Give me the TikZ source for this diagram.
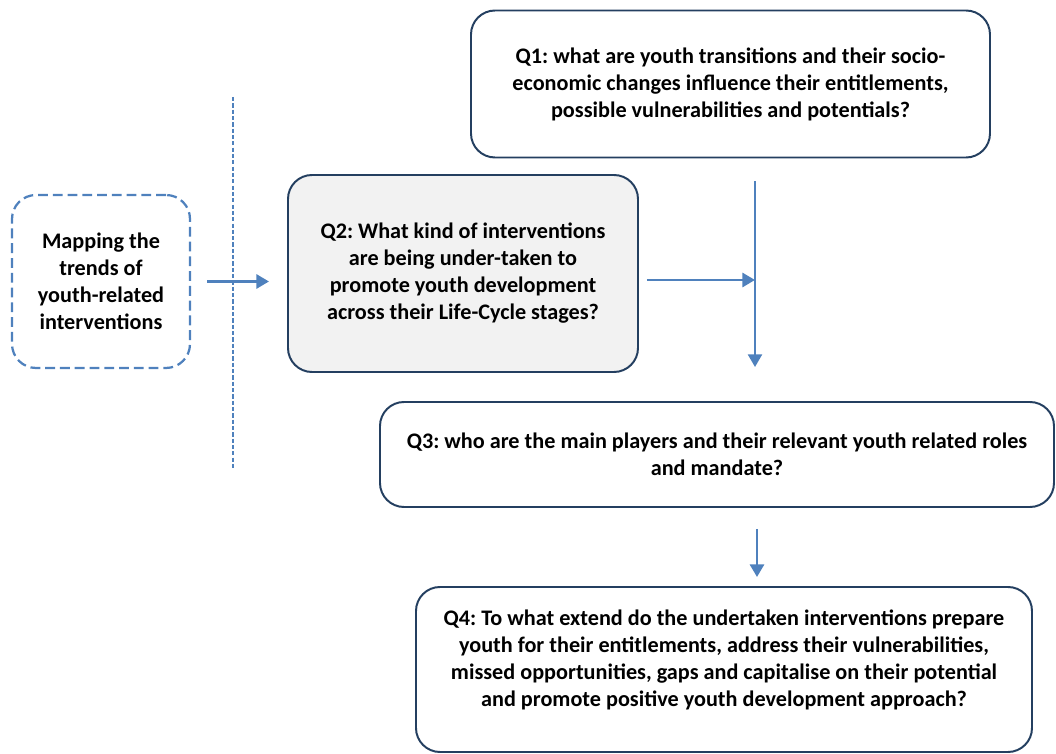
\documentclass[tikz,border=0pt]{standalone}
\usepackage{fontspec}
\setmainfont{Carlito}
\frenchspacing
\usetikzlibrary{arrows.meta}
\definecolor{lineblue}{HTML}{4F81BD}
\definecolor{boxline}{HTML}{243F60}
\definecolor{boxfill}{HTML}{F2F2F2}

\begin{document}
\begin{tikzpicture}[
	every node/.style = {shape=rectangle, align=center,
		font=\fontsize{15.8}{19.2}\selectfont\bfseries},
	qbox/.style = {draw=boxline, line width=1.4pt, rounded corners=0.6cm},
	mapbox/.style = {draw=lineblue, line width=1.6pt, rounded corners=0.6cm,
		dash pattern=on 7pt off 3.5pt},
	flow/.style = {draw=lineblue, line width=2pt,
		-{Triangle[length=9pt, width=10pt]}}]
	\useasboundingbox (0,0) rectangle (26.4,18.85);
	\node[qbox, minimum width=12.975cm, minimum height=3.675cm] (q1) at (18.2625,16.75)
		{Q1: what are youth transitions and their socio-\\
		economic changes influence their entitlements,\\
		possible vulnerabilities and potentials?};
	\node[mapbox, minimum width=4.45cm, minimum height=4.325cm] (map) at (2.525,11.8125)
		{Mapping the\\ trends of\\ youth-related\\ interventions};
	\node[qbox, fill=boxfill, minimum width=8.75cm, minimum height=4.925cm] (q2) at (11.575,12.0125)
		{Q2: What kind of interventions\\
		are being under-taken to\\
		promote youth development\\
		across their Life-Cycle stages?};
	\node[qbox, minimum width=16.85cm, minimum height=2.625cm] (q3) at (17.925,7.4875)
		{Q3: who are the main players and their relevant youth related roles\\
		and mandate?};
	\node[qbox, minimum width=15.4cm, minimum height=4.125cm] (q4) at (18.1,2.1125)
		{Q4: To what extend do the undertaken interventions prepare\\
		youth for their entitlements, address their vulnerabilities,\\
		missed opportunities, gaps and capitalise on their potential\\
		and promote positive youth development approach?\\[-9pt] \strut};
	\coordinate (join) at (18.875,11.85);
	\coordinate (cuttop) at (5.825,16.425);
	\coordinate (cutbot) at (5.825,7.1);
	\draw[lineblue, line width=1.2pt, dash pattern=on 3pt off 1.5pt] (cuttop) -- (cutbot);
	\draw[flow] ([xshift=0.4cm]map.east) -- ([xshift=-0.45cm]q2.west |- map.east);
	\draw[flow] ([xshift=0.2cm]q2.east |- join) -- (join);
	\draw[flow, line width=1.5pt] ([yshift=-0.57cm]q1.south -| join) -- ([yshift=0.85cm]q3.north -| join);
	\draw[flow] ([yshift=-0.525cm]q3.south -| join) ++(0.05,0) -- ([yshift=0.225cm,xshift=0.05cm]q4.north -| join);
\end{tikzpicture}
\end{document}
